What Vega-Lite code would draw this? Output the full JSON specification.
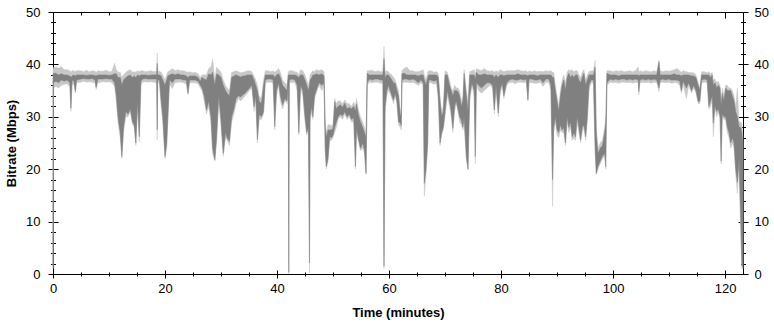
{
  "$schema": "https://vega.github.io/schema/vega-lite/v6.json",
  "width": 690,
  "height": 262,
  "autosize": "none",
  "padding": {"left": 53, "top": 12, "right": 31, "bottom": 50},
  "background": "white",
  "config": {
    "view": {"stroke": null},
    "font": "Liberation Sans",
    "axis": {"grid": false, "domainColor": "#000", "tickColor": "#000", "labelColor": "#000", "titleColor": "#000", "labelFont": "Liberation Sans", "titleFont": "Liberation Sans", "labelFontSize": 13, "titleFontSize": 13, "titleFontWeight": "bold", "domainWidth": 1, "tickWidth": 1}
  },
  "data": {"values": [
{"t":0,"a":1.5,"b":38.2,"c":1,"d":39},
{"t":0.1,"a":36.5,"b":38.3,"c":35.5,"d":39.4},
{"t":0.5,"a":36.8,"b":38.3,"c":35.8,"d":39.5},
{"t":1,"a":36.5,"b":38,"c":35.5,"d":39.3},
{"t":1.5,"a":37,"b":38.2,"c":36,"d":39.6},
{"t":2,"a":36.8,"b":38,"c":36.2,"d":39},
{"t":2.5,"a":37,"b":38,"c":36.3,"d":39},
{"t":3,"a":36.5,"b":37.8,"c":35.8,"d":38.8},
{"t":3.2,"a":31.6,"b":37.5,"c":31,"d":38.5},
{"t":3.4,"a":36.8,"b":37.8,"c":36,"d":38.8},
{"t":3.7,"a":37,"b":38,"c":36.3,"d":38.8},
{"t":4,"a":34.8,"b":37.8,"c":34.5,"d":38.6},
{"t":4.2,"a":37,"b":38,"c":36.5,"d":38.8},
{"t":5,"a":37.2,"b":38,"c":36.6,"d":38.8},
{"t":5.5,"a":37.3,"b":38,"c":36.8,"d":38.6},
{"t":6,"a":37.2,"b":37.9,"c":36.6,"d":38.9},
{"t":6.5,"a":37.2,"b":38,"c":36.7,"d":38.6},
{"t":7,"a":37.3,"b":38,"c":36.6,"d":38.8},
{"t":7.5,"a":37,"b":37.9,"c":36.5,"d":38.7},
{"t":7.7,"a":35.6,"b":37.8,"c":35.2,"d":38.5},
{"t":8,"a":37.2,"b":38,"c":36.5,"d":38.8},
{"t":8.5,"a":37.2,"b":38,"c":36.6,"d":38.7},
{"t":9,"a":37.2,"b":38,"c":36.7,"d":38.7},
{"t":9.5,"a":37.3,"b":38,"c":36.6,"d":38.9},
{"t":10,"a":37.2,"b":37.9,"c":36.7,"d":38.6},
{"t":10.5,"a":37.2,"b":38,"c":36.5,"d":38.7},
{"t":11,"a":36.5,"b":38.2,"c":35.8,"d":40.2},
{"t":11.3,"a":34,"b":38.2,"c":33,"d":39},
{"t":11.6,"a":30,"b":37.5,"c":29,"d":38.5},
{"t":12,"a":27,"b":37.5,"c":26,"d":38.5},
{"t":12.3,"a":22.4,"b":36,"c":22,"d":37.5},
{"t":12.6,"a":28,"b":37,"c":27,"d":38},
{"t":13,"a":31,"b":37.5,"c":30,"d":38.5},
{"t":13.4,"a":30.5,"b":37.8,"c":30,"d":38.8},
{"t":13.8,"a":31.5,"b":38,"c":31,"d":39},
{"t":14.2,"a":29,"b":37.5,"c":28.5,"d":38.5},
{"t":14.5,"a":28.5,"b":37.8,"c":28,"d":38.6},
{"t":14.8,"a":25,"b":37.5,"c":24.5,"d":38.5},
{"t":15.1,"a":33,"b":38,"c":32,"d":38.8},
{"t":15.4,"a":26.2,"b":37.8,"c":25.2,"d":38.6},
{"t":15.7,"a":36.8,"b":38,"c":36,"d":38.8},
{"t":16,"a":37.2,"b":38,"c":36.6,"d":38.8},
{"t":16.5,"a":37.3,"b":38,"c":36.7,"d":38.6},
{"t":17,"a":37.2,"b":37.9,"c":36.6,"d":38.7},
{"t":17.5,"a":37.2,"b":38,"c":36.7,"d":38.8},
{"t":18,"a":37.2,"b":38,"c":36.6,"d":38.6},
{"t":18.5,"a":37.2,"b":38,"c":36.5,"d":38.7},
{"t":18.6,"a":27.5,"b":40.2,"c":25.5,"d":42.2},
{"t":18.7,"a":37,"b":38,"c":36.5,"d":38.7},
{"t":19,"a":37,"b":38,"c":36.5,"d":38.7},
{"t":19.3,"a":33.2,"b":37.8,"c":32,"d":38.5},
{"t":19.6,"a":30,"b":37,"c":29,"d":38},
{"t":20,"a":22.4,"b":36,"c":22,"d":37},
{"t":20.3,"a":25,"b":37,"c":24,"d":38},
{"t":20.5,"a":29.7,"b":37.8,"c":29,"d":38.6},
{"t":20.8,"a":37,"b":38,"c":36.2,"d":38.8},
{"t":21.3,"a":36.5,"b":38.2,"c":35.4,"d":39.2},
{"t":21.8,"a":37.2,"b":38,"c":36.5,"d":38.8},
{"t":22.3,"a":37.2,"b":38.2,"c":36.6,"d":39},
{"t":22.8,"a":37.2,"b":38,"c":36.6,"d":38.8},
{"t":23.3,"a":37,"b":38,"c":36.5,"d":38.8},
{"t":23.8,"a":37,"b":37.8,"c":36.2,"d":38.6},
{"t":24.1,"a":34.5,"b":37.5,"c":34.2,"d":38.5},
{"t":24.4,"a":37,"b":37.8,"c":36.5,"d":38.6},
{"t":24.9,"a":37,"b":37.8,"c":36.5,"d":38.4},
{"t":25.4,"a":37,"b":37.8,"c":36.5,"d":38.5},
{"t":25.9,"a":36.8,"b":37.5,"c":36.3,"d":38.2},
{"t":26.3,"a":36,"b":36.8,"c":35.5,"d":37.5},
{"t":26.6,"a":35.5,"b":37.5,"c":35,"d":38},
{"t":27,"a":34,"b":37.2,"c":33,"d":38},
{"t":27.4,"a":31.3,"b":37,"c":30.5,"d":38},
{"t":27.8,"a":33,"b":38.2,"c":32,"d":39.2},
{"t":28.2,"a":30,"b":38,"c":29,"d":39.5},
{"t":28.5,"a":24,"b":38.5,"c":23,"d":41},
{"t":28.9,"a":21.8,"b":36,"c":21.5,"d":37},
{"t":29.2,"a":26,"b":38.2,"c":25,"d":39.5},
{"t":29.6,"a":34,"b":38,"c":33,"d":39},
{"t":30,"a":29.4,"b":37.5,"c":28,"d":38.5},
{"t":30.4,"a":23,"b":36,"c":22.5,"d":37},
{"t":30.8,"a":27,"b":35,"c":26,"d":36},
{"t":31.1,"a":26,"b":34.5,"c":25.5,"d":35.5},
{"t":31.5,"a":25.3,"b":34,"c":24.5,"d":35},
{"t":31.9,"a":30,"b":37.5,"c":29,"d":38.5},
{"t":32.3,"a":31.5,"b":37.8,"c":30.5,"d":38.6},
{"t":32.7,"a":33.5,"b":38,"c":32.5,"d":38.8},
{"t":33.1,"a":34,"b":37.8,"c":33.5,"d":38.6},
{"t":33.5,"a":33.8,"b":37.6,"c":33,"d":38.4},
{"t":33.9,"a":34.2,"b":37.8,"c":33.5,"d":38.5},
{"t":34.3,"a":34.5,"b":37.8,"c":34,"d":38.6},
{"t":34.7,"a":35,"b":38,"c":34.5,"d":38.8},
{"t":35.1,"a":35.5,"b":38,"c":35,"d":38.8},
{"t":35.5,"a":36,"b":38,"c":35.5,"d":38.6},
{"t":35.9,"a":31.9,"b":37,"c":31,"d":37.8},
{"t":36.2,"a":34,"b":36,"c":33,"d":37},
{"t":36.5,"a":25.6,"b":35,"c":25,"d":36},
{"t":36.8,"a":30.5,"b":33,"c":29.5,"d":34},
{"t":37.2,"a":30,"b":32.5,"c":29.5,"d":33.5},
{"t":37.6,"a":31,"b":36,"c":30.5,"d":37},
{"t":37.9,"a":37,"b":38,"c":36.5,"d":38.8},
{"t":38.4,"a":37.2,"b":38,"c":36.6,"d":38.8},
{"t":38.9,"a":37.2,"b":38,"c":36.6,"d":38.6},
{"t":39.3,"a":37,"b":38,"c":36.4,"d":38.8},
{"t":39.6,"a":28.1,"b":37.5,"c":27.5,"d":38.5},
{"t":39.9,"a":35,"b":38,"c":34,"d":38.8},
{"t":40.3,"a":36.5,"b":38.2,"c":35.8,"d":39.2},
{"t":40.6,"a":34,"b":37.5,"c":33,"d":38.5},
{"t":41,"a":32.3,"b":36,"c":31.5,"d":37},
{"t":41.4,"a":33.5,"b":35.5,"c":33,"d":36.5},
{"t":41.8,"a":33,"b":35,"c":32.5,"d":36},
{"t":42,"a":36.5,"b":38,"c":36,"d":38.6},
{"t":42.1,"a":0.3,"b":38,"c":0.1,"d":38.6},
{"t":42.2,"a":37,"b":38,"c":36.5,"d":38.8},
{"t":42.7,"a":37.2,"b":38,"c":36.6,"d":38.8},
{"t":43.2,"a":37,"b":38,"c":36.5,"d":38.6},
{"t":43.6,"a":36,"b":37.8,"c":35,"d":38.5},
{"t":43.9,"a":27,"b":37.5,"c":26.5,"d":38},
{"t":44.2,"a":36,"b":38,"c":35.5,"d":39},
{"t":44.6,"a":35,"b":38,"c":34,"d":38.8},
{"t":45,"a":30,"b":37,"c":29,"d":38},
{"t":45.3,"a":27,"b":36,"c":26.5,"d":37},
{"t":45.6,"a":28,"b":35,"c":27.5,"d":36},
{"t":45.8,"a":2.1,"b":36,"c":0.2,"d":37},
{"t":45.9,"a":30,"b":37,"c":29,"d":38},
{"t":46.2,"a":32,"b":37.5,"c":31,"d":38.5},
{"t":46.4,"a":30,"b":38,"c":29.5,"d":38.8},
{"t":46.7,"a":34,"b":38,"c":33.5,"d":38.6},
{"t":47,"a":35,"b":38.2,"c":34.5,"d":39},
{"t":47.5,"a":36.5,"b":38,"c":36,"d":38.8},
{"t":48,"a":36,"b":38.2,"c":35,"d":39},
{"t":48.4,"a":36.5,"b":37.8,"c":36,"d":38.6},
{"t":48.6,"a":24,"b":28,"c":23,"d":29},
{"t":48.8,"a":20.5,"b":26,"c":20,"d":27},
{"t":49.1,"a":22,"b":27.5,"c":21.5,"d":28.5},
{"t":49.4,"a":26.2,"b":27.5,"c":25.5,"d":28.5},
{"t":49.7,"a":26,"b":27.5,"c":25.5,"d":28.3},
{"t":50,"a":26.5,"b":27.8,"c":26,"d":28.5},
{"t":50.3,"a":28,"b":32.9,"c":27,"d":33.5},
{"t":50.6,"a":29,"b":31.5,"c":28,"d":32.5},
{"t":50.9,"a":30,"b":32,"c":29.5,"d":33},
{"t":51.3,"a":30.5,"b":32.3,"c":30,"d":33},
{"t":51.7,"a":30.2,"b":31.8,"c":29.5,"d":32.5},
{"t":52.1,"a":31,"b":32.6,"c":30.5,"d":33.2},
{"t":52.5,"a":30,"b":31.5,"c":29.5,"d":32.5},
{"t":52.9,"a":30.5,"b":31.8,"c":30,"d":32.5},
{"t":53.3,"a":29.5,"b":31.5,"c":29,"d":32},
{"t":53.7,"a":29.8,"b":32,"c":29,"d":32.8},
{"t":54,"a":20.5,"b":31,"c":20,"d":32},
{"t":54.2,"a":28,"b":32.5,"c":27,"d":33.5},
{"t":54.5,"a":26,"b":30.5,"c":25.5,"d":31.5},
{"t":54.9,"a":24,"b":29,"c":23.5,"d":30},
{"t":55.3,"a":25,"b":28,"c":24,"d":29},
{"t":55.6,"a":23.7,"b":27,"c":23,"d":28},
{"t":55.9,"a":19.2,"b":26,"c":19,"d":27},
{"t":56.1,"a":36.5,"b":38.3,"c":36,"d":38.8},
{"t":56.5,"a":37.2,"b":38,"c":36.6,"d":38.8},
{"t":57,"a":37,"b":38,"c":36.5,"d":38.9},
{"t":57.5,"a":37.2,"b":38,"c":36.6,"d":38.6},
{"t":58,"a":37.2,"b":38,"c":36.6,"d":38.8},
{"t":58.5,"a":37,"b":38,"c":36.4,"d":38.6},
{"t":58.9,"a":37,"b":38,"c":36.4,"d":38.6},
{"t":59.1,"a":1.5,"b":41.1,"c":1,"d":43.4},
{"t":59.3,"a":31.9,"b":37.5,"c":31,"d":38.5},
{"t":59.6,"a":35,"b":38,"c":34,"d":38.8},
{"t":59.9,"a":36,"b":38,"c":35,"d":38.6},
{"t":60.2,"a":35,"b":37.5,"c":34.5,"d":38.2},
{"t":60.5,"a":34,"b":37,"c":33.5,"d":38},
{"t":60.8,"a":33.2,"b":36.5,"c":32.5,"d":37.5},
{"t":61.1,"a":34.5,"b":36.4,"c":34,"d":37},
{"t":61.4,"a":33,"b":35,"c":32.5,"d":36},
{"t":61.7,"a":29,"b":34,"c":28.5,"d":35},
{"t":62,"a":28.8,"b":30,"c":28,"d":31},
{"t":62.2,"a":28.3,"b":31,"c":27.5,"d":32},
{"t":62.3,"a":37,"b":38.2,"c":36.5,"d":38.8},
{"t":62.7,"a":37.2,"b":38.3,"c":36.6,"d":39.2},
{"t":63.2,"a":37.2,"b":38,"c":36.6,"d":39.5},
{"t":63.7,"a":37,"b":38,"c":36.5,"d":38.8},
{"t":64.2,"a":37.2,"b":38,"c":36.6,"d":38.8},
{"t":64.7,"a":37,"b":38,"c":36.4,"d":38.6},
{"t":65.2,"a":36.5,"b":37.8,"c":36,"d":38.6},
{"t":65.7,"a":37,"b":38,"c":36.5,"d":38.8},
{"t":66.1,"a":36.5,"b":38,"c":36,"d":39},
{"t":66.3,"a":17.3,"b":37,"c":14.8,"d":38},
{"t":66.6,"a":20,"b":36,"c":19,"d":37},
{"t":66.9,"a":25,"b":37.5,"c":24,"d":38.5},
{"t":67.1,"a":37,"b":38,"c":36.5,"d":38.8},
{"t":67.5,"a":37,"b":38,"c":36.5,"d":38.8},
{"t":68,"a":36.8,"b":38,"c":36.2,"d":38.5},
{"t":68.5,"a":37,"b":38,"c":36.4,"d":38.6},
{"t":68.8,"a":34,"b":37.5,"c":33,"d":38.2},
{"t":69.1,"a":25,"b":33,"c":24.5,"d":34},
{"t":69.4,"a":27,"b":30,"c":26.5,"d":31},
{"t":69.7,"a":28.1,"b":31,"c":27.5,"d":32},
{"t":70,"a":31,"b":38,"c":30,"d":38.8},
{"t":70.4,"a":35,"b":38,"c":34,"d":38.5},
{"t":70.8,"a":33,"b":36,"c":32,"d":37},
{"t":71.1,"a":31,"b":35,"c":30,"d":35.5},
{"t":71.4,"a":27.8,"b":34,"c":27,"d":35},
{"t":71.7,"a":32,"b":35,"c":31,"d":36},
{"t":72,"a":33,"b":35,"c":32.5,"d":35.5},
{"t":72.3,"a":31.5,"b":34.8,"c":31,"d":35.5},
{"t":72.6,"a":30,"b":34,"c":29,"d":35},
{"t":72.9,"a":29.4,"b":32,"c":28.5,"d":33},
{"t":73.2,"a":28,"b":33,"c":27.5,"d":34},
{"t":73.4,"a":30,"b":38.3,"c":29,"d":39},
{"t":73.8,"a":22.4,"b":34,"c":22,"d":35},
{"t":74.1,"a":20,"b":31,"c":19.9,"d":33},
{"t":74.4,"a":34,"b":38,"c":33,"d":38.6},
{"t":74.8,"a":36.5,"b":38,"c":36,"d":38.8},
{"t":75.2,"a":35,"b":38,"c":34,"d":39},
{"t":75.4,"a":22.4,"b":37,"c":21,"d":38},
{"t":75.6,"a":36.5,"b":38.5,"c":36,"d":39.2},
{"t":76,"a":36,"b":38,"c":35,"d":39},
{"t":76.5,"a":35.5,"b":38,"c":34.5,"d":38.8},
{"t":77,"a":36,"b":38.2,"c":35,"d":39.2},
{"t":77.5,"a":36.5,"b":38,"c":35.5,"d":38.8},
{"t":78,"a":36.5,"b":38,"c":36,"d":38.7},
{"t":78.5,"a":36,"b":38,"c":35.5,"d":38.8},
{"t":78.8,"a":31.3,"b":37.5,"c":30.5,"d":38.5},
{"t":79.1,"a":36,"b":38,"c":35.5,"d":38.8},
{"t":79.5,"a":30.7,"b":37.5,"c":30,"d":38.5},
{"t":79.8,"a":35,"b":38,"c":34,"d":39},
{"t":80.2,"a":36.5,"b":38,"c":36,"d":38.8},
{"t":80.5,"a":34,"b":37.8,"c":33.5,"d":38.6},
{"t":81,"a":36.5,"b":38,"c":36,"d":38.8},
{"t":81.5,"a":37,"b":38,"c":36.5,"d":38.8},
{"t":82,"a":37.2,"b":38,"c":36.6,"d":38.8},
{"t":82.5,"a":37,"b":38,"c":36.3,"d":38.8},
{"t":83,"a":37,"b":38.2,"c":36.6,"d":39},
{"t":83.5,"a":37.2,"b":38,"c":36.6,"d":38.8},
{"t":84,"a":37,"b":38,"c":36.5,"d":38.7},
{"t":84.5,"a":37.2,"b":38,"c":36.6,"d":38.8},
{"t":84.8,"a":33.2,"b":37.8,"c":33,"d":38.5},
{"t":85,"a":37.2,"b":38,"c":36.6,"d":38.8},
{"t":85.5,"a":37.2,"b":38,"c":36.5,"d":38.6},
{"t":86,"a":37,"b":38,"c":36.4,"d":38.8},
{"t":86.5,"a":37,"b":37.8,"c":36.4,"d":38.6},
{"t":87,"a":37.2,"b":38,"c":36.6,"d":38.7},
{"t":87.5,"a":36.5,"b":38,"c":35.8,"d":38.6},
{"t":88,"a":37.2,"b":38,"c":36.6,"d":38.8},
{"t":88.5,"a":37.2,"b":38,"c":36.6,"d":38.7},
{"t":88.9,"a":36,"b":38,"c":35,"d":38.8},
{"t":89.2,"a":18,"b":37.5,"c":12.9,"d":38.5},
{"t":89.4,"a":28,"b":37.5,"c":27,"d":38.5},
{"t":89.7,"a":30,"b":35,"c":29,"d":36},
{"t":90,"a":27.5,"b":33,"c":26.5,"d":34},
{"t":90.3,"a":27,"b":31,"c":26,"d":32},
{"t":90.6,"a":28.5,"b":34,"c":27.5,"d":35},
{"t":90.9,"a":27.5,"b":36,"c":27,"d":37},
{"t":91.2,"a":28,"b":37,"c":27,"d":38},
{"t":91.5,"a":25,"b":35,"c":24.5,"d":36.5},
{"t":91.8,"a":30,"b":37.5,"c":29,"d":38.5},
{"t":92.1,"a":28,"b":38.3,"c":27,"d":39},
{"t":92.4,"a":29,"b":37.5,"c":28,"d":38.8},
{"t":92.7,"a":26.2,"b":38,"c":25.5,"d":39},
{"t":93,"a":27,"b":37.5,"c":26,"d":38.6},
{"t":93.3,"a":26.2,"b":38,"c":25.5,"d":38.8},
{"t":93.6,"a":30,"b":38,"c":29,"d":38.8},
{"t":93.9,"a":28,"b":37,"c":27,"d":38},
{"t":94.2,"a":25.6,"b":36.5,"c":25,"d":37.5},
{"t":94.5,"a":28,"b":37.5,"c":27,"d":38.5},
{"t":94.8,"a":28.5,"b":38.3,"c":28,"d":39},
{"t":95.1,"a":26.2,"b":36,"c":25.5,"d":37},
{"t":95.4,"a":30,"b":37,"c":29,"d":38},
{"t":95.7,"a":36,"b":38,"c":35,"d":38.6},
{"t":96.1,"a":37,"b":38,"c":36.5,"d":38.8},
{"t":96.5,"a":37,"b":38,"c":36.5,"d":38.8},
{"t":96.8,"a":24,"b":39.5,"c":23,"d":40.8},
{"t":97,"a":19.2,"b":27,"c":19,"d":28},
{"t":97.3,"a":20.5,"b":23,"c":20,"d":24},
{"t":97.7,"a":21.5,"b":24,"c":21,"d":25},
{"t":98.1,"a":22.5,"b":24.5,"c":22,"d":25.5},
{"t":98.5,"a":23,"b":27,"c":22.5,"d":28},
{"t":98.7,"a":20.5,"b":28.8,"c":20,"d":30},
{"t":98.9,"a":36.5,"b":38.3,"c":36,"d":38.8},
{"t":99.5,"a":37.2,"b":38,"c":36.6,"d":38.8},
{"t":100,"a":37,"b":38,"c":36.5,"d":38.6},
{"t":100.5,"a":37.2,"b":38,"c":36.6,"d":38.8},
{"t":101,"a":37,"b":37.8,"c":36.4,"d":38.7},
{"t":101.5,"a":37.2,"b":38,"c":36.6,"d":38.8},
{"t":102,"a":37.2,"b":38,"c":36.6,"d":38.6},
{"t":102.5,"a":37,"b":38,"c":36.5,"d":38.7},
{"t":103,"a":37.2,"b":38,"c":36.6,"d":38.8},
{"t":103.5,"a":37,"b":38,"c":36.4,"d":38.6},
{"t":104,"a":37.2,"b":38,"c":36.6,"d":38.8},
{"t":104.5,"a":37,"b":38,"c":36.5,"d":39.5},
{"t":104.6,"a":34.8,"b":37.8,"c":34.2,"d":38.5},
{"t":104.8,"a":37,"b":38,"c":36.5,"d":38.8},
{"t":105.3,"a":37.2,"b":38,"c":36.6,"d":38.6},
{"t":105.8,"a":37,"b":38,"c":36.5,"d":38.8},
{"t":106.3,"a":37.2,"b":38,"c":36.6,"d":38.7},
{"t":106.8,"a":37,"b":38,"c":36.4,"d":38.6},
{"t":107.3,"a":37.2,"b":38,"c":36.6,"d":38.8},
{"t":107.8,"a":37,"b":38,"c":36.5,"d":38.6},
{"t":108.2,"a":35.5,"b":40.5,"c":34.8,"d":40.8},
{"t":108.4,"a":37,"b":38,"c":36.5,"d":38.8},
{"t":108.9,"a":37.2,"b":38,"c":36.6,"d":38.6},
{"t":109.4,"a":37,"b":38,"c":36.5,"d":38.8},
{"t":109.9,"a":37.2,"b":38,"c":36.6,"d":38.7},
{"t":110.4,"a":37,"b":38,"c":36.4,"d":38.8},
{"t":110.9,"a":37,"b":38.2,"c":36.5,"d":39},
{"t":111.4,"a":37,"b":38,"c":36.5,"d":39.2},
{"t":111.9,"a":36.8,"b":38,"c":36,"d":38.8},
{"t":112.2,"a":35,"b":37.8,"c":34.5,"d":38.5},
{"t":112.5,"a":36.8,"b":38,"c":36.2,"d":38.8},
{"t":113.1,"a":35.5,"b":38,"c":33.5,"d":38.6},
{"t":113.5,"a":36.5,"b":38,"c":36,"d":38.5},
{"t":114,"a":35,"b":37.8,"c":34.5,"d":38.4},
{"t":114.4,"a":36,"b":37.8,"c":35.5,"d":38.4},
{"t":114.8,"a":35,"b":37.5,"c":34.5,"d":38},
{"t":115.2,"a":32.9,"b":36,"c":32.5,"d":36.5},
{"t":115.5,"a":33,"b":35,"c":32.5,"d":35.5},
{"t":115.8,"a":37,"b":38,"c":36.5,"d":38.6},
{"t":116.3,"a":37.2,"b":38,"c":36.6,"d":38.6},
{"t":116.8,"a":37,"b":38,"c":36.5,"d":38.4},
{"t":117.1,"a":32,"b":38,"c":31.5,"d":38.6},
{"t":117.4,"a":33,"b":37.5,"c":32,"d":38.2},
{"t":117.7,"a":34,"b":38,"c":33,"d":38.5},
{"t":117.9,"a":28.8,"b":36,"c":26.2,"d":37},
{"t":118.2,"a":32,"b":36.5,"c":31.5,"d":37.2},
{"t":118.5,"a":31,"b":35.5,"c":30,"d":36.5},
{"t":118.8,"a":31.5,"b":36,"c":31,"d":36.8},
{"t":119.1,"a":30,"b":35.5,"c":29.5,"d":36},
{"t":119.3,"a":21.5,"b":32,"c":21,"d":33},
{"t":119.5,"a":30.5,"b":34.5,"c":30,"d":35.5},
{"t":119.8,"a":30,"b":33,"c":29.5,"d":34},
{"t":120.1,"a":30,"b":35.5,"c":29.5,"d":36},
{"t":120.4,"a":28,"b":35,"c":27,"d":36},
{"t":120.7,"a":27,"b":35,"c":26,"d":35.5},
{"t":121,"a":25,"b":35,"c":24,"d":35.5},
{"t":121.3,"a":26,"b":34,"c":25,"d":35},
{"t":121.6,"a":25,"b":33,"c":24,"d":34},
{"t":121.9,"a":20,"b":31,"c":19,"d":32},
{"t":122.2,"a":17.5,"b":30,"c":15.4,"d":35.5},
{"t":122.5,"a":22,"b":28,"c":21,"d":29},
{"t":122.8,"a":10,"b":28,"c":8,"d":29},
{"t":123,"a":1.5,"b":27,"c":1,"d":28.5},
{"t":123.2,"a":1.5,"b":25,"c":1,"d":26}
  ]},
  "resolve": {"axis": {"x": "independent", "y": "independent"}},
  "layer": [
    {
      "mark": {"type": "area", "color": "#c8c8c8", "stroke": "#c8c8c8", "strokeWidth": 0.5},
      "encoding": {
        "x": {"field": "t", "type": "quantitative", "scale": {"domain": [0, 123.2], "nice": false, "zero": false},
          "axis": {"orient": "bottom", "values": [0,5,10,15,20,25,30,35,40,45,50,55,60,65,70,75,80,85,90,95,100,105,110,115,120],
            "labelExpr": "datum.value % 20 === 0 ? datum.label : ''",
            "tickSize": {"condition": {"test": "datum.value % 20 === 0", "value": 4}, "value": 2},
            "labelPadding": 4, "labelFlush": false, "labelOverlap": false,
            "title": "Time (minutes)", "titleX": 345, "titleY": 42, "titleBaseline": "alphabetic", "titleAlign": "center"}},
        "y": {"field": "c", "type": "quantitative", "scale": {"domain": [0, 50], "nice": false, "zero": true},
          "axis": {"orient": "left", "values": [0,2,4,6,8,10,12,14,16,18,20,22,24,26,28,30,32,34,36,38,40,42,44,46,48,50],
            "labelExpr": "datum.value % 10 === 0 ? datum.label : ''",
            "tickSize": {"condition": {"test": "datum.value % 10 === 0", "value": 5}, "value": 2.5},
            "labelPadding": 8, "labelFlush": false, "labelOverlap": false,
            "title": "Bitrate (Mbps)", "titleX": -35, "titleY": 131, "titleAngle": 270, "titleBaseline": "bottom", "titleAlign": "center"}},
        "y2": {"field": "d"}
      }
    },
    {
      "mark": {"type": "area", "color": "#808080", "stroke": "#808080", "strokeWidth": 0.5},
      "encoding": {
        "x": {"field": "t", "type": "quantitative", "scale": {"domain": [0, 123.2], "nice": false, "zero": false},
          "axis": {"orient": "bottom", "values": [0,5,10,15,20,25,30,35,40,45,50,55,60,65,70,75,80,85,90,95,100,105,110,115,120],
            "labels": false, "title": null,
            "tickSize": {"condition": {"test": "datum.value % 20 === 0", "value": -4}, "value": -2}}},
        "y": {"field": "a", "type": "quantitative", "scale": {"domain": [0, 50], "nice": false, "zero": true},
          "axis": {"orient": "left", "values": [0,2,4,6,8,10,12,14,16,18,20,22,24,26,28,30,32,34,36,38,40,42,44,46,48,50],
            "labels": false, "title": null,
            "tickSize": {"condition": {"test": "datum.value % 10 === 0", "value": -5}, "value": -2.5}}},
        "y2": {"field": "b"}
      }
    },
    {
      "mark": {"type": "area", "opacity": 0},
      "encoding": {
        "x": {"field": "t", "type": "quantitative", "scale": {"domain": [0, 123.2], "nice": false, "zero": false},
          "axis": {"orient": "top", "values": [0,5,10,15,20,25,30,35,40,45,50,55,60,65,70,75,80,85,90,95,100,105,110,115,120],
            "labels": false, "title": null,
            "tickSize": {"condition": {"test": "datum.value % 20 === 0", "value": -6}, "value": -3}}},
        "y": {"field": "a", "type": "quantitative", "scale": {"domain": [0, 50], "nice": false, "zero": true},
          "axis": {"orient": "right", "values": [0,2,4,6,8,10,12,14,16,18,20,22,24,26,28,30,32,34,36,38,40,42,44,46,48,50],
            "labelExpr": "datum.value % 10 === 0 ? datum.label : ''",
            "tickSize": {"condition": {"test": "datum.value % 10 === 0", "value": 5}, "value": 2.5},
            "labelPadding": 6, "labelFlush": false, "labelOverlap": false, "title": null}},
        "y2": {"field": "b"}
      }
    },
    {
      "mark": {"type": "area", "opacity": 0},
      "encoding": {
        "x": {"field": "t", "type": "quantitative", "scale": {"domain": [0, 123.2], "nice": false, "zero": false}, "axis": null},
        "y": {"field": "a", "type": "quantitative", "scale": {"domain": [0, 50], "nice": false, "zero": true},
          "axis": {"orient": "right", "values": [0,2,4,6,8,10,12,14,16,18,20,22,24,26,28,30,32,34,36,38,40,42,44,46,48,50],
            "labels": false, "title": null,
            "tickSize": {"condition": {"test": "datum.value % 10 === 0", "value": -5}, "value": -2.5}}},
        "y2": {"field": "b"}
      }
    }
  ]
}
